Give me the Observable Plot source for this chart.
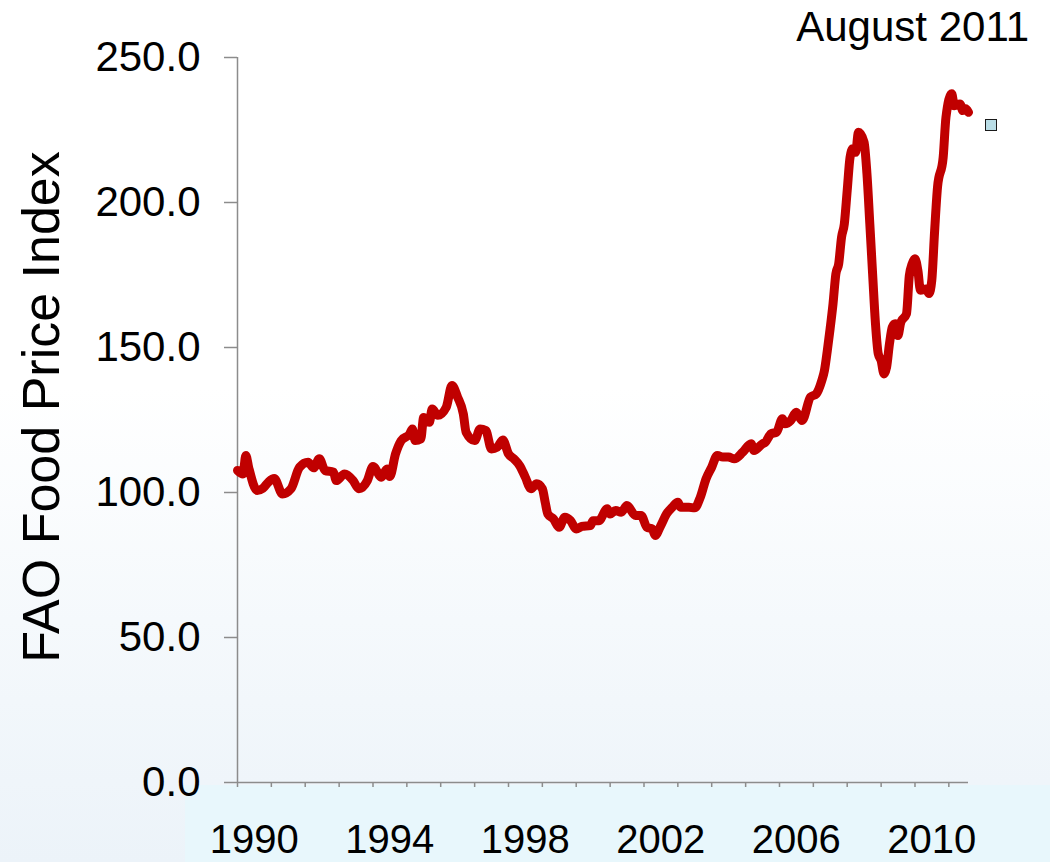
<!DOCTYPE html>
<html>
<head>
<meta charset="utf-8">
<script src="https://cdn.jsdelivr.net/npm/d3@7"></script>
<script src="https://cdn.jsdelivr.net/npm/@observablehq/plot@0.6"></script>
<style>
  html, body { margin: 0; padding: 0; background: #fff; }
  #wrap {
    position: relative; width: 1050px; height: 862px; overflow: hidden;
    background: linear-gradient(to bottom, #ffffff 0%, #ffffff 45%, #f5f9fc 72%, #ecf3f9 100%);
    font-family: "Liberation Sans", Arial, sans-serif;
  }
  #band { position: absolute; left: 185px; top: 785px; width: 865px; height: 77px; background: #e8f7fc; }
  #chart { position: absolute; left: 0; top: 0; }
  #ytitle {
    position: absolute; left: 41px; top: 407px; font-size: 52px; line-height: 1; white-space: nowrap;
    transform: translate(-50%, -50%) rotate(-90deg); color: #000;
  }
  #date { position: absolute; right: 21px; top: 6px; font-size: 42px; line-height: 1; color: #000; white-space: nowrap; }
  #swatch { position: absolute; left: 985px; top: 119px; width: 12px; height: 12px; box-sizing: border-box;
    background: #b9dde6; border: 1.5px solid #1a1a1a; }
</style>
</head>
<body>
<div id="wrap">
  <div id="band"></div>
  <div id="chart"></div>
  <div id="ytitle">FAO Food Price Index</div>
  <div id="date">August 2011</div>
  <div id="swatch"></div>
</div>
<script>
// Monthly FAO Food Price Index readings
const months = [
  "1990-01","1990-03","1990-04","1990-05","1990-08","1990-10","1990-12",
  "1991-02","1991-05","1991-08","1991-11",
  "1992-02","1992-04","1992-06","1992-08","1992-11","1992-12",
  "1993-03","1993-06","1993-08","1993-11",
  "1994-01","1994-04","1994-06","1994-07","1994-09","1994-11",
  "1995-02","1995-03","1995-04","1995-06","1995-07","1995-09","1995-10","1995-12",
  "1996-03","1996-05","1996-07","1996-09","1996-10",
  "1997-01","1997-03","1997-05","1997-07","1997-09","1997-11",
  "1998-01","1998-03","1998-05","1998-07","1998-09","1998-11",
  "1999-01","1999-02","1999-03","1999-05","1999-07","1999-09","1999-11",
  "2000-01","2000-03","2000-06","2000-07","2000-09","2000-12",
  "2001-01","2001-03","2001-05","2001-07","2001-10","2001-12",
  "2002-02","2002-04","2002-05","2002-07","2002-09","2002-11",
  "2003-01","2003-02","2003-05","2003-07","2003-09","2003-11",
  "2004-01","2004-03","2004-05","2004-07","2004-09","2004-12",
  "2005-03","2005-04","2005-07","2005-08","2005-10","2005-12",
  "2006-02","2006-03","2006-05","2006-07","2006-09","2006-12",
  "2007-02","2007-04","2007-05","2007-06","2007-07","2007-08","2007-09","2007-10","2007-11","2007-12",
  "2008-01","2008-02","2008-03","2008-04","2008-05","2008-07","2008-08","2008-09","2008-10","2008-11","2008-12",
  "2009-01","2009-02","2009-03","2009-04","2009-05","2009-06","2009-07","2009-08","2009-10","2009-11","2009-12",
  "2010-01","2010-02","2010-03","2010-05","2010-06","2010-07","2010-08","2010-09","2010-11","2010-12",
  "2011-02","2011-03","2011-05","2011-06","2011-07","2011-08"
];
const values = [
  107.6,106.4,112.8,108.7,100.7,101.4,103.6,
  104.8,99.5,101.3,108.7,
  110.4,108.5,111.6,107.6,107.0,104.1,
  106.4,104.1,101.3,104.1,
  109.0,105.3,108.1,105.5,113.3,117.9,
  120.2,121.9,117.9,118.5,125.9,124.2,128.8,126.6,
  129.4,136.9,132.9,127.1,120.8,
  117.9,121.9,121.4,115.0,115.6,118.1,
  113.3,111.6,109.3,105.3,101.3,103.0,
  101.3,96.6,92.6,90.9,88.0,91.5,90.3,
  87.4,88.3,88.6,90.3,90.3,94.4,
  92.6,93.8,93.2,95.5,92.1,92.1,
  88.0,87.4,85.2,88.6,92.6,94.9,
  96.6,94.9,94.9,94.7,98.4,104.7,
  108.7,112.8,112.2,112.2,111.6,113.9,
  116.8,114.5,116.8,117.3,120.2,120.8,
  125.4,123.7,124.8,127.7,124.8,132.9,
  134.0,138.5,142.1,149.0,156.5,165.0,175.4,178.8,188.0,192.6,
  204.1,215.6,218.5,217.3,224.2,220.8,209.9,192.6,175.4,158.2,147.8,
  145.5,140.9,143.2,151.3,157.0,158.2,154.1,158.7,161.6,174.8,178.8,
  180.6,176.6,169.7,170.2,168.6,173.1,190.3,205.3,215.6,229.4,
  237.5,233.4,234.0,231.7,232.3,231.1
];
const yTicks = [0, 50, 100, 150, 200, 250];
const tickYears = [1990,1991,1992,1993,1994,1995,1996,1997,1998,1999,2000,2001,2002,2003,2004,2005,2006,2007,2008,2009,2010,2011];
const labelYears = [1990, 1994, 1998, 2002, 2006, 2010];
const xStart = "1990-01";
const xEnd = "2011-08";

const parse = d3.utcParse("%Y-%m");
const data = months.map((m, i) => ({date: parse(m), value: values[i]}));
const tickDates = tickYears.map(y => new Date(Date.UTC(y, 0, 1)));
const labelDates = labelYears.map(y => new Date(Date.UTC(y, 6, 1)));
const axisGray = "#8c8c8c";

const chart = Plot.plot({
  width: 1050,
  height: 862,
  marginLeft: 237,
  marginRight: 82,
  marginTop: 57,
  marginBottom: 80,
  style: {background: "transparent", fontFamily: "'Liberation Sans', Arial, sans-serif", color: "#000", overflow: "visible"},
  x: {type: "utc", domain: [parse(xStart), parse(xEnd)]},
  y: {domain: [0, 250]},
  marks: [
    Plot.axisY({ticks: yTicks, tickSize: 13, tickPadding: 24, tickFormat: d3.format(".1f"), fontSize: 42,
      stroke: axisGray, fill: "#000", strokeWidth: 1.5, label: null}),
    Plot.axisX({ticks: tickDates, tickSize: 5, tickFormat: () => "", stroke: axisGray, strokeWidth: 1.5, label: null}),
    Plot.axisX({ticks: labelDates, tickSize: 0, tickPadding: 42, tickFormat: d => String(d.getUTCFullYear()),
      fontSize: 40, fill: "#000", label: null}),
    Plot.ruleX([parse(xStart)], {stroke: axisGray, strokeWidth: 1.5}),
    Plot.ruleY([0], {stroke: axisGray, strokeWidth: 1.5}),
    Plot.line(data, {x: "date", y: "value", stroke: "#c00000", strokeWidth: 9, curve: "monotone-x",
      strokeLinejoin: "round", strokeLinecap: "round"})
  ]
});
document.getElementById("chart").appendChild(chart);
</script>
</body>
</html>
